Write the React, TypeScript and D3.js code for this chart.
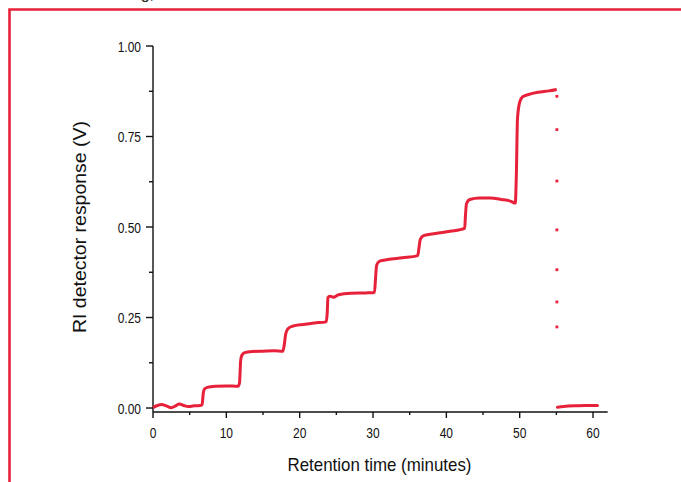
import React from "react";
import * as d3 from "d3";

// main RI trace, 0 - 55 min (time, response V)
const traceTimes = [
  0, 0.6, 1.2, 1.8, 2.5, 3.0, 3.6, 4.2, 4.8, 5.6, 6.5, 6.7, 6.85, 7.0, 7.4, 8.5, 10, 11.6,
  11.8, 11.95, 12.1, 12.5, 13.5, 15, 16.5, 17.7, 17.9, 18.1, 18.4, 19, 20.5, 22, 23.6,
  23.75, 23.85, 24.1, 24.6, 25.3, 27, 29, 30.2, 30.35, 30.5, 30.9, 32, 34, 36.1,
  36.25, 36.45, 36.9, 38.5, 40.5, 42.5, 42.6, 42.75, 43.2, 44.5, 46, 47.5, 48.8, 49.4,
  49.55, 49.7, 50.0, 50.4, 51.2, 52.5, 54, 55.05,
];
const traceValues = [
  0.001, 0.007, 0.01, 0.006, 0.001, 0.005, 0.011, 0.007, 0.004, 0.006, 0.007, 0.01, 0.04, 0.052, 0.057, 0.06, 0.061, 0.06,
  0.07, 0.13, 0.145, 0.153, 0.156, 0.157, 0.158, 0.157, 0.175, 0.205, 0.219, 0.226, 0.231, 0.235, 0.238,
  0.26, 0.305, 0.309, 0.306, 0.313, 0.317, 0.318, 0.319, 0.36, 0.395, 0.406, 0.41, 0.415, 0.421,
  0.44, 0.466, 0.476, 0.482, 0.488, 0.496, 0.53, 0.565, 0.576, 0.58, 0.58, 0.576, 0.571, 0.566,
  0.65, 0.8, 0.845, 0.86, 0.866, 0.872, 0.876, 0.88,
];

// trace after the reset at 55 min
const tailTimes = [55.15, 56, 57.5, 59, 60.6];
const tailValues = [0.002, 0.004, 0.006, 0.007, 0.007];

// isolated points during the drop
const dropTime = 55.07;
const dropValues = [0.861, 0.769, 0.627, 0.492, 0.382, 0.293, 0.224];

const xMajor = [0, 10, 20, 30, 40, 50, 60];
const xMinor = [5, 15, 25, 35, 45, 55];
const yMajor = [0, 0.25, 0.5, 0.75, 1.0];
const yMinor = [0.125, 0.375, 0.625, 0.875];

const RED = "#e8213a";
const FONT = "'Liberation Sans', Arial, sans-serif";

// condensed look: squeeze glyphs horizontally
const Label = ({ x, y, anchor, children }: any) => (
  <g transform={`translate(${x},${y}) scale(0.8,1)`}>
    <text textAnchor={anchor} fontFamily={FONT} fontSize={15} fill="#111">
      {children}
    </text>
  </g>
);

export default function App() {
  const width = 681,
    height = 482;

  const x = d3.scaleLinear().domain([0, 62]).range([153, 607.7]);
  const y = d3.scaleLinear().domain([-0.011, 1]).range([412, 46]);

  const line = d3
    .line<number>()
    .x(d => x(d))
    .curve(d3.curveMonotoneX);

  const mainPath = line.y((d, i) => y(traceValues[i]))(traceTimes);
  const tailPath = line.y((d, i) => y(tailValues[i]))(tailTimes);

  return (
    <svg
      width={width}
      height={height}
      style={{ position: "absolute", left: 0, top: 0, background: "#fff" }}
    >
      <text x={154} y={-1} textAnchor="end" fontFamily={FONT} fontSize={16} fill="#222">
        ing,
      </text>
      <path d={`M9.5,${height} V9.5 H${width}`} fill="none" stroke={RED} strokeWidth={2.6} />

      {/* axes */}
      <g stroke="#111" strokeWidth={1.4} fill="none">
        <line x1={x(0)} x2={x(0)} y1={y(1)} y2={412} />
        <line x1={x(0)} x2={x(62)} y1={412} y2={412} />
        {xMajor.map(t => (
          <line key={t} x1={x(t)} x2={x(t)} y1={412} y2={418} />
        ))}
        {xMinor.map(t => (
          <line key={t} x1={x(t)} x2={x(t)} y1={412} y2={415} />
        ))}
        {yMajor.map(v => (
          <line key={v} x1={x(0) - 7} x2={x(0)} y1={y(v)} y2={y(v)} />
        ))}
        {yMinor.map(v => (
          <line key={v} x1={x(0) - 4} x2={x(0)} y1={y(v)} y2={y(v)} />
        ))}
      </g>

      {xMajor.map(t => (
        <Label key={t} x={x(t)} y={437.5} anchor="middle">
          {t}
        </Label>
      ))}
      {yMajor.map(v => (
        <Label key={v} x={141} y={y(v) + 5.5} anchor="end">
          {v.toFixed(2)}
        </Label>
      ))}

      <text
        x={379.5}
        y={471}
        textAnchor="middle"
        fontFamily={FONT}
        fontSize={19}
        textLength={184}
        lengthAdjust="spacingAndGlyphs"
        fill="#111"
      >
        Retention time (minutes)
      </text>
      <text
        transform={`translate(86,${y(0.5)}) rotate(-90)`}
        textAnchor="middle"
        fontFamily={FONT}
        fontSize={19}
        textLength={212}
        lengthAdjust="spacingAndGlyphs"
        fill="#111"
      >
        RI detector response (V)
      </text>

      {/* data */}
      <path d={mainPath ?? ""} fill="none" stroke={RED} strokeWidth={3} strokeLinejoin="round" />
      <path d={tailPath ?? ""} fill="none" stroke={RED} strokeWidth={3} strokeLinecap="round" />
      {dropValues.map(v => (
        <rect key={v} x={x(dropTime) - 1.4} y={y(v) - 1.4} width={2.8} height={2.8} fill={RED} />
      ))}
    </svg>
  );
}
